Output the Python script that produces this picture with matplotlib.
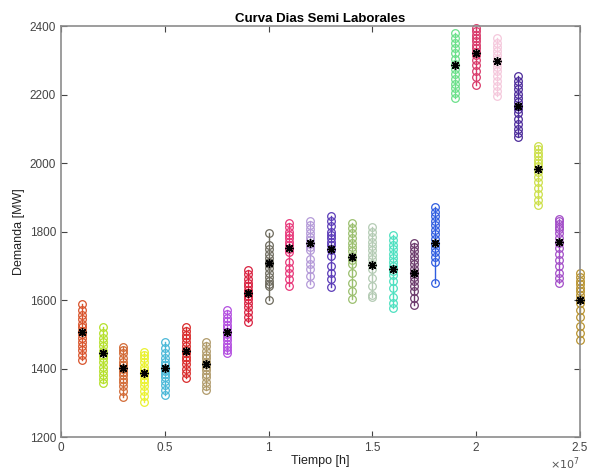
import matplotlib
matplotlib.use('Agg')
from matplotlib import pyplot as plt

plt.rcParams['font.family'] = ['Liberation Sans', 'DejaVu Sans']

horas = [i * 1e6 for i in range(1, 26)]

demanda = [
	[1588, 1570, 1555, 1545, 1530, 1520, 1510, 1500, 1490, 1478, 1465, 1455, 1440, 1425],
	[1522, 1505, 1490, 1478, 1465, 1450, 1440, 1430, 1418, 1405, 1392, 1380, 1368, 1357],
	[1464, 1455, 1445, 1432, 1420, 1410, 1400, 1390, 1380, 1370, 1360, 1348, 1335, 1318],
	[1449, 1440, 1430, 1418, 1405, 1395, 1388, 1380, 1370, 1360, 1348, 1335, 1320, 1303],
	[1478, 1460, 1445, 1432, 1420, 1410, 1400, 1392, 1385, 1375, 1365, 1352, 1338, 1323],
	[1522, 1510, 1498, 1488, 1478, 1465, 1455, 1445, 1435, 1425, 1412, 1400, 1388, 1372],
	[1478, 1465, 1452, 1440, 1430, 1420, 1412, 1405, 1395, 1385, 1375, 1362, 1350, 1337],
	[1571, 1560, 1548, 1538, 1528, 1518, 1508, 1500, 1492, 1483, 1472, 1463, 1454, 1444],
	[1688, 1675, 1662, 1650, 1640, 1630, 1620, 1612, 1602, 1592, 1580, 1565, 1550, 1536],
	[1795, 1760, 1748, 1735, 1722, 1712, 1705, 1695, 1680, 1668, 1655, 1648, 1640, 1600],
	[1824, 1812, 1800, 1790, 1780, 1770, 1760, 1750, 1740, 1710, 1695, 1680, 1662, 1641],
	[1831, 1818, 1806, 1795, 1785, 1775, 1765, 1755, 1745, 1720, 1705, 1690, 1670, 1647],
	[1845, 1830, 1815, 1800, 1790, 1780, 1770, 1760, 1745, 1730, 1700, 1680, 1660, 1637],
	[1824, 1810, 1795, 1780, 1768, 1755, 1742, 1730, 1718, 1705, 1680, 1650, 1625, 1602],
	[1814, 1800, 1785, 1770, 1758, 1745, 1732, 1720, 1705, 1690, 1665, 1640, 1615, 1610],
	[1790, 1776, 1762, 1748, 1735, 1722, 1710, 1698, 1685, 1672, 1655, 1635, 1610, 1590, 1576],
	[1767, 1755, 1742, 1730, 1718, 1705, 1692, 1680, 1668, 1655, 1640, 1625, 1605, 1585],
	[1872, 1858, 1845, 1832, 1818, 1805, 1792, 1778, 1765, 1752, 1740, 1725, 1710, 1650],
	[2379, 2365, 2350, 2335, 2320, 2305, 2290, 2275, 2260, 2245, 2232, 2218, 2205, 2189],
	[2393, 2385, 2375, 2365, 2355, 2345, 2335, 2325, 2315, 2300, 2285, 2270, 2250, 2228],
	[2364, 2352, 2340, 2328, 2316, 2304, 2292, 2280, 2268, 2255, 2240, 2225, 2210, 2196],
	[2254, 2240, 2228, 2215, 2202, 2190, 2178, 2168, 2158, 2145, 2130, 2115, 2100, 2088, 2076],
	[2050, 2040, 2030, 2020, 2010, 2000, 1990, 1975, 1960, 1945, 1928, 1910, 1893, 1877],
	[1838, 1830, 1822, 1814, 1806, 1796, 1782, 1768, 1752, 1735, 1718, 1700, 1680, 1665, 1649],
	[1679, 1668, 1657, 1646, 1636, 1626, 1615, 1603, 1590, 1570, 1550, 1525, 1505, 1483],
]

media = [1507, 1445, 1401, 1388, 1401, 1452, 1413, 1507, 1620, 1709, 1751, 1767, 1749,
	1726, 1702, 1690, 1680, 1767, 2286, 2320, 2298, 2166, 1982, 1770, 1600]

colores = ['#d9532b', '#b5e02a', '#d26a35', '#eaf22f', '#4ab8d8', '#d92a2a', '#b09a6a',
	'#b34ee0', '#d9203f', '#6e6b5e', '#e8387a', '#b49ad8', '#5b3cb8', '#9bbf6e', '#b4cbb4',
	'#4de0c0', '#6b3a6b', '#2f5de0', '#6be08a', '#d93a6a', '#f5c8dc', '#4b2a9a', '#cde04a',
	'#a34ec8', '#b8922e']

fig = plt.figure(figsize=(5.9, 4.74), dpi=100)
ax = fig.add_axes([0.1034, 0.078, 0.8796, 0.867])

for h, vals, c in zip(horas, demanda, colores):
	ax.plot([h] * len(vals), vals, '-o', color=c, mfc='none', mec=c, ms=5.5, mew=0.9, lw=1.0, clip_on=False)
ax.plot(horas, media, ls='none', marker=(8, 2, 0), color='black', ms=6.5, mew=1.0, clip_on=False, zorder=5)

ax.set_xlim(0, 2.5e7)
ax.set_ylim(1200, 2400)
ax.set_xticks([0, 0.5e7, 1e7, 1.5e7, 2e7, 2.5e7])
ax.set_xticklabels(['0', '0.5', '1', '1.5', '2', '2.5'])
ax.set_yticks(range(1200, 2401, 200))
ax.tick_params(direction='in', top=True, right=True, length=4, labelsize=8.5, colors='#444444', width=0.8)
for s in ax.spines.values():
	s.set_color('#8c8c8c')
	s.set_linewidth(1.2)
ax.text(1.0, -0.045, r'$\times10^{7}$', transform=ax.transAxes, ha='right', va='top', fontsize=8, color='#555555')

ax.set_title('Curva Dias Semi Laborales', fontsize=9.5, fontweight='bold', pad=3)
ax.set_xlabel('Tiempo [h]', fontsize=9, labelpad=1, color='#222222')
ax.set_ylabel('Demanda [MW]', fontsize=9, labelpad=3, color='#222222')

fig.savefig('out.png', dpi=100)
